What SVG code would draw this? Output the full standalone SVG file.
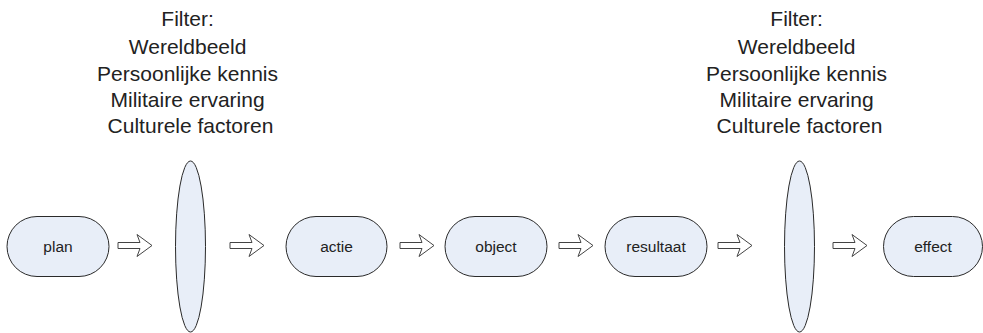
<svg xmlns="http://www.w3.org/2000/svg" width="983" height="333" viewBox="0 0 983 333">
  <defs>
    <style>
      .node rect, .lens { fill: #e8eef8; stroke: #2a2a2a; stroke-width: 1; }
      .label { font-family: "Liberation Sans", Arial, sans-serif; font-size: 15.5px; fill: #222; text-anchor: middle; }
      .filter { font-family: "Liberation Sans", Arial, sans-serif; font-size: 21px; fill: #222; text-anchor: middle; }
      .arrow { fill: #fff; stroke: #444; stroke-width: 1; stroke-linejoin: miter; }
    </style>
    <!-- hollow block arrow, tip at (34,0) -->
    <path id="blockArrow" class="arrow" d="M0,-3 H22 L19,-11 L34,0 L19,11 L22,3 H0 Z"/>
  </defs>

  <rect width="983" height="333" fill="#fff"/>

  <!-- filter lenses with their captions -->
  <g id="filter1">
    <ellipse class="lens" cx="190.5" cy="246.5" rx="15" ry="85.5"/>
    <text class="filter" x="190.5">
      <tspan x="190.5" y="26">Filter:</tspan>
      <tspan x="190.5" y="53.5">Wereldbeeld</tspan>
      <tspan x="190.5" y="80.5">Persoonlijke kennis</tspan>
      <tspan x="190.5" y="107">Militaire ervaring</tspan>
      <tspan x="190.5" y="133">Culturele factoren</tspan>
    </text>
  </g>
  <g id="filter2">
    <ellipse class="lens" cx="799.5" cy="246.5" rx="15" ry="85.5"/>
    <text class="filter" x="799.5">
      <tspan x="799.5" y="26">Filter:</tspan>
      <tspan x="799.5" y="53.5">Wereldbeeld</tspan>
      <tspan x="799.5" y="80.5">Persoonlijke kennis</tspan>
      <tspan x="799.5" y="107">Militaire ervaring</tspan>
      <tspan x="799.5" y="133">Culturele factoren</tspan>
    </text>
  </g>

  <!-- process steps -->
  <g id="plan" class="node">
    <rect x="7" y="216.5" width="102" height="60" rx="30" ry="30"/>
    <text class="label" x="58" y="252">plan</text>
  </g>
  <g id="actie" class="node">
    <rect x="286" y="216.5" width="101" height="60" rx="30" ry="30"/>
    <text class="label" x="336.5" y="252">actie</text>
  </g>
  <g id="object" class="node">
    <rect x="445" y="216.5" width="102" height="60" rx="30" ry="30"/>
    <text class="label" x="496" y="252">object</text>
  </g>
  <g id="resultaat" class="node">
    <rect x="605" y="216.5" width="102" height="60" rx="30" ry="30"/>
    <text class="label" x="656" y="252">resultaat</text>
  </g>
  <g id="effect" class="node">
    <rect x="883.5" y="216.5" width="99" height="60" rx="30" ry="30"/>
    <text class="label" x="933" y="252">effect</text>
  </g>

  <!-- connectors -->
  <g id="connectors">
    <use href="#blockArrow" x="118" y="245.5"/>
    <use href="#blockArrow" x="230" y="245.5"/>
    <use href="#blockArrow" x="400" y="245.5"/>
    <use href="#blockArrow" x="559" y="245.5"/>
    <use href="#blockArrow" x="718" y="245.5"/>
    <use href="#blockArrow" x="833" y="245.5"/>
  </g>
</svg>
